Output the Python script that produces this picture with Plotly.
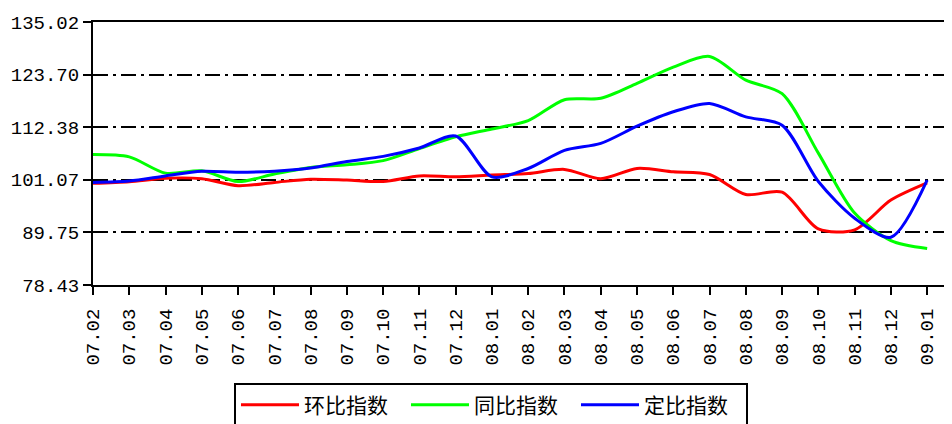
import plotly.graph_objects as go

months = ["07.02", "07.03", "07.04", "07.05", "07.06", "07.07", "07.08", "07.09",
          "07.10", "07.11", "07.12", "08.01", "08.02", "08.03", "08.04", "08.05",
          "08.06", "08.07", "08.08", "08.09", "08.10", "08.11", "08.12", "09.01"]

huanbi = [100.3, 100.66, 101.4, 101.3, 99.8, 100.5, 101.2, 101.0,
          100.7, 101.9, 101.7, 102.1, 102.4, 103.3, 101.3, 103.5,
          102.8, 102.2, 97.9, 98.4, 90.5, 90.3, 96.7, 100.4]

tongbi = [106.5, 106.0, 102.5, 103.0, 100.7, 102.3, 103.7, 104.3,
          105.2, 107.8, 110.3, 112.0, 113.8, 118.3, 118.6, 121.8,
          125.3, 127.6, 122.5, 119.6, 106.8, 93.9, 88.0, 86.3]

dingbi = [100.5, 100.8, 101.9, 102.9, 102.7, 102.9, 103.6, 105.0,
          106.1, 107.9, 110.5, 101.7, 103.5, 107.4, 108.9, 112.6,
          115.7, 117.5, 114.6, 112.8, 100.7, 92.8, 88.7, 101.0]

y_ticks = [78.43, 89.75, 101.07, 112.38, 123.70, 135.02]
y_ticktext = ["78.43", "89.75", "101.07", "112.38", "123.70", "135.02"]

series = [
    ("环比指数", huanbi, "#FF0000"),
    ("同比指数", tongbi, "#00FF00"),
    ("定比指数", dingbi, "#0000FF"),
]

fig = go.Figure()
for name, vals, color in series:
    fig.add_trace(go.Scatter(
        x=months, y=vals, name=name, mode="lines",
        line=dict(color=color, width=3, shape="spline", smoothing=0.8),
    ))

# the page body has an 8px margin, so the figure is sized to fit the window
fig.update_layout(
    width=944, height=416,
    margin=dict(l=85, r=2, t=14, b=139, autoexpand=False),
    paper_bgcolor="white", plot_bgcolor="white",
    font=dict(family="Liberation Mono", color="black"),
    showlegend=True,
    legend=dict(
        orientation="h",
        xref="container", yref="container",
        x=0.2394, xanchor="left",
        y=0.0993, yanchor="top",
        bordercolor="black", borderwidth=2,
        font=dict(family="Noto Sans CJK SC", size=21, color="black"),
        entrywidth=97,
        itemwidth=58,
        bgcolor="white",
    ),
)

fig.update_xaxes(
    type="category",
    range=[0, 23.63],
    tickangle=-90,
    tickfont=dict(family="Liberation Mono", size=19, color="black"),
    ticks="outside", ticklen=8, tickwidth=1.5, tickcolor="black",
    ticklabelstandoff=6,
    showline=True, linecolor="black", linewidth=2, mirror=True,
    showgrid=False, zeroline=False, automargin=False,
)

fig.update_yaxes(
    range=[78.43, 135.02],
    tickmode="array", tickvals=y_ticks, ticktext=y_ticktext,
    tickfont=dict(family="Liberation Mono", size=19, color="black"),
    ticks="outside", ticklen=8, tickwidth=1.5, tickcolor="black",
    showline=True, linecolor="black", linewidth=2,
    showgrid=True, gridcolor="black", gridwidth=2,
    griddash="15px,5px,3px,5px",
    zeroline=False, automargin=False,
)

fig.write_html("out.html")
